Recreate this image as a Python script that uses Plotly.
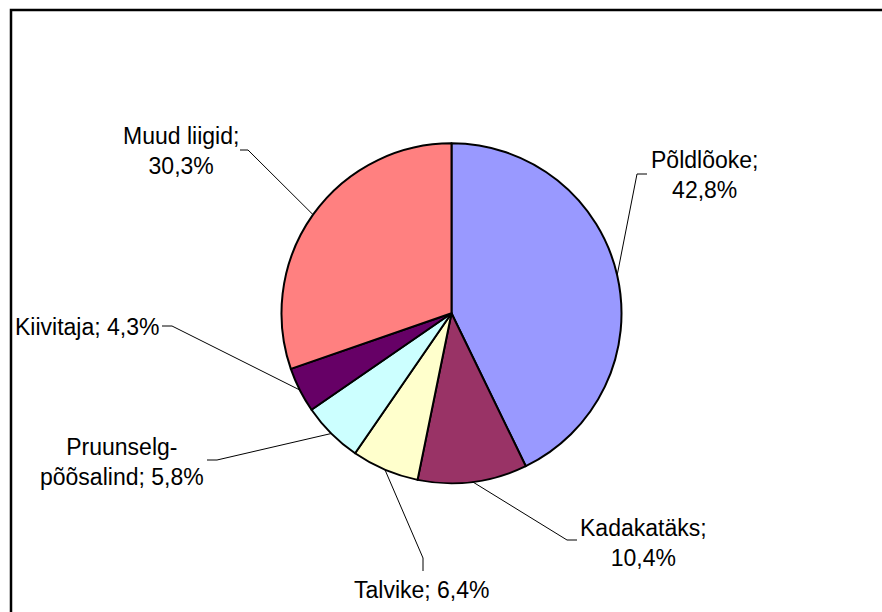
import math
import plotly.graph_objects as go

# ---- data ----
species = ["Põldlõoke", "Kadakatäks", "Talvike", "Pruunselg-<br>põõsalind", "Kiivitaja", "Muud liigid"]
shares = [42.8, 10.4, 6.4, 5.8, 4.3, 30.3]
colors = ["#9999FF", "#993366", "#FFFFCC", "#CCFFFF", "#660066", "#FF8080"]

# ---- layout constants (pixels) ----
W, H = 882, 612
CX, CY, R = 451.5, 313.3, 170.0

# label text center, elbow point, tail point for each slice
label_pos = [(704, 175), (643, 543), (422, 590), (122, 462), (87, 327), (181, 151)]
elbows = [(637, 174), (567, 540), (423, 558), (217, 460), (172, 326), (248, 150)]
tails = [(647, 174), (577, 540), (423, 571), (207, 460), (162, 326), (240, 150)]
label_text = [
    "Põldlõoke;<br>42,8%",
    "Kadakatäks;<br>10,4%",
    "Talvike; 6,4%",
    "Pruunselg-<br>põõsalind; 5,8%",
    "Kiivitaja; 4,3%",
    "Muud liigid;<br>30,3%",
]


def px(x):
    return x / W


def py(y):
    return 1 - y / H


fig = go.Figure(
    go.Pie(
        labels=species,
        values=shares,
        sort=False,
        direction="clockwise",
        rotation=0,
        marker=dict(colors=colors, line=dict(color="black", width=2)),
        textinfo="none",
        hoverinfo="label+percent",
        showlegend=False,
        domain=dict(x=[px(CX - R), px(CX + R)], y=[py(CY + R), py(CY - R)]),
    )
)

shapes = [
    dict(type="rect", xref="paper", yref="paper",
         x0=px(11), y0=-0.05, x1=1.05, y1=py(10),
         line=dict(color="black", width=2.5), fillcolor="rgba(0,0,0,0)")
]
annotations = []
total = sum(shares)
cum = 0.0
for i, v in enumerate(shares):
    mid = (cum + v / 2) / total * 2 * math.pi
    cum += v
    ex = CX + R * math.sin(mid)
    ey = CY - R * math.cos(mid)
    bx, by = elbows[i]
    tx, ty = tails[i]
    shapes.append(dict(type="line", xref="paper", yref="paper",
                       x0=px(ex), y0=py(ey), x1=px(bx), y1=py(by),
                       line=dict(color="black", width=1)))
    shapes.append(dict(type="line", xref="paper", yref="paper",
                       x0=px(bx), y0=py(by), x1=px(tx), y1=py(ty),
                       line=dict(color="black", width=1)))
    lx, ly = label_pos[i]
    annotations.append(dict(x=px(lx), y=py(ly), xref="paper", yref="paper",
                            text=label_text[i], showarrow=False,
                            xanchor="center", yanchor="middle", align="center",
                            font=dict(family="Liberation Sans, Arial, sans-serif",
                                      size=23, color="black")))

fig.update_layout(
    width=W, height=H,
    margin=dict(l=0, r=0, t=0, b=0),
    paper_bgcolor="white",
    plot_bgcolor="white",
    shapes=shapes,
    annotations=annotations,
)

fig.write_html(
    "out.html",
    config={"displayModeBar": False},
    post_script="document.body.style.margin='0';document.body.style.overflow='hidden';",
)
